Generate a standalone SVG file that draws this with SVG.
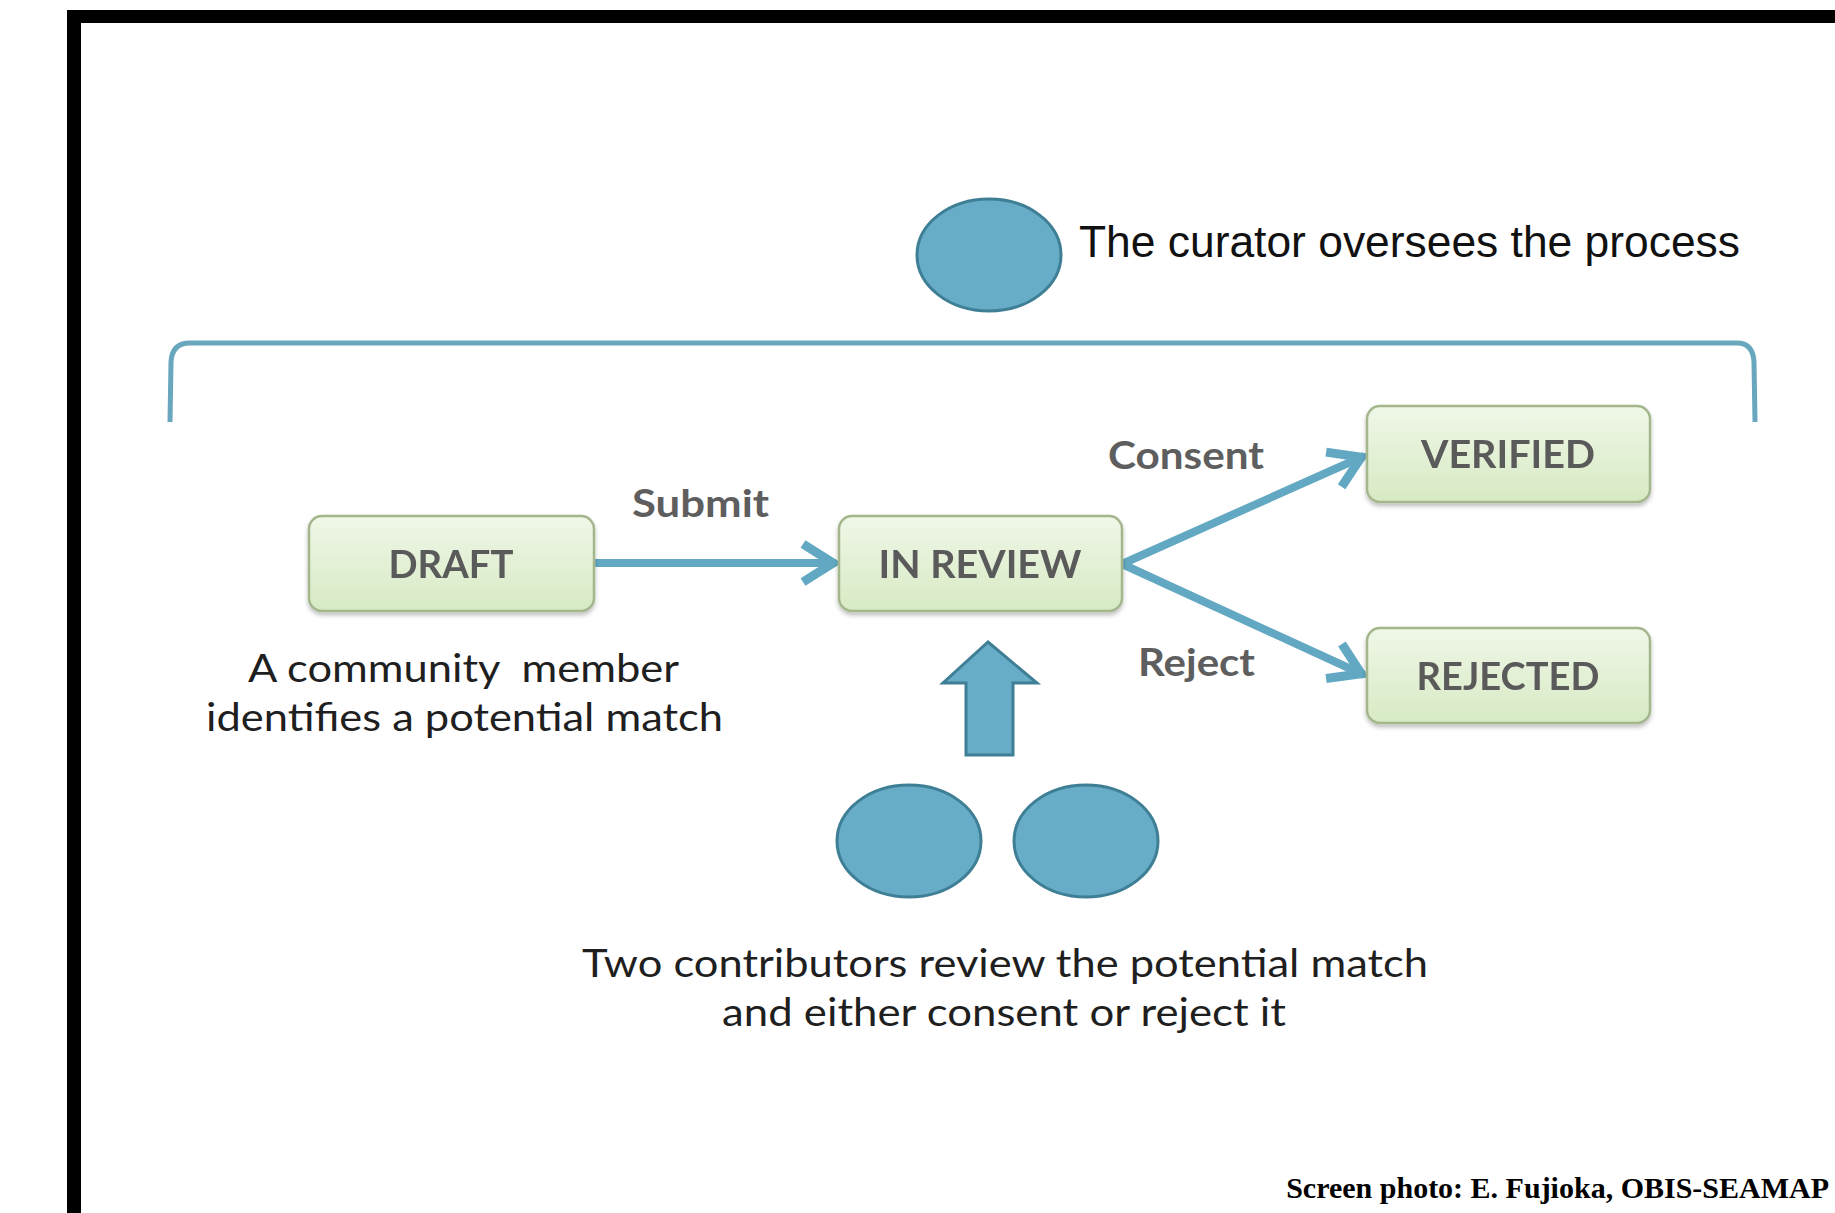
<svg xmlns="http://www.w3.org/2000/svg" width="1835" height="1213" viewBox="0 0 1835 1213">
<style>
.box{stroke:#a3b68c;stroke-width:2.5;fill:url(#g)}
.bt{font-family:Lato,"Open Sans",sans-serif;font-weight:bold;font-size:38px;fill:#5a5a5a;text-anchor:middle}
.lb{font-family:Lato,"Open Sans",sans-serif;font-weight:bold;font-size:38px;fill:#5e5e5e}
.tx{font-family:Lato,"Open Sans",sans-serif;font-size:38px;fill:#1f1f1f;white-space:pre}
.person{fill:#67adc8;stroke:#3f7f95;stroke-width:3}
.con{fill:none;stroke:#62a8c2;stroke-width:8}
</style>
<defs>
<linearGradient id="g" x1="0" y1="0" x2="0" y2="1">
<stop offset="0" stop-color="#f0f7e8"/>
<stop offset="1" stop-color="#d6eac3"/>
</linearGradient>
<filter id="sh" x="-10%" y="-10%" width="120%" height="130%">
<feDropShadow dx="0" dy="3" stdDeviation="2" flood-color="#000" flood-opacity="0.25"/>
</filter>
<marker id="ah" markerUnits="userSpaceOnUse" viewBox="-40 -24 44 48" markerWidth="44" markerHeight="48" refX="0" refY="0" orient="auto">
<path d="M-33,-19 L-3,0 L-33,19" fill="none" stroke="#62a8c2" stroke-width="9"/>
</marker>
</defs>
<rect x="0" y="0" width="1835" height="1213" fill="#ffffff"/>
<g id="frame">
<path d="M67,10 H1835 V23 H81 V1213 H67 Z" fill="#000"/>
</g>
<g id="bracket">
<path d="M170,422 L171,362 Q172,343 190,343 L1737,343 Q1753,343 1754,362 L1755,422" fill="none" stroke="#68a7be" stroke-width="5"/>
</g>
<g id="curator">
<ellipse class="person" cx="989" cy="255" rx="72" ry="56"/>
<text x="1079" y="257" font-family="'Liberation Sans',Arial,sans-serif" font-size="45" fill="#111" textLength="661" lengthAdjust="spacingAndGlyphs">The curator oversees the process</text>
</g>
<g id="connectors">
<line class="con" x1="594" y1="563" x2="836" y2="563" marker-end="url(#ah)"/>
<line class="con" x1="1122" y1="564" x2="1364" y2="456" marker-end="url(#ah)"/>
<line class="con" x1="1122" y1="564" x2="1364" y2="675" marker-end="url(#ah)"/>
<text class="lb" x="632" y="517" textLength="137" lengthAdjust="spacingAndGlyphs">Submit</text>
<text class="lb" x="1108" y="469" textLength="156" lengthAdjust="spacingAndGlyphs">Consent</text>
<text class="lb" x="1138" y="676" textLength="117" lengthAdjust="spacingAndGlyphs">Reject</text>
</g>
<g id="draft" filter="url(#sh)">
<rect class="box" x="309" y="516" width="285" height="95" rx="13"/>
<text class="bt" x="451" y="578" textLength="125" lengthAdjust="spacingAndGlyphs">DRAFT</text>
</g>
<g id="inreview" filter="url(#sh)">
<rect class="box" x="839" y="516" width="283" height="95" rx="13"/>
<text class="bt" x="980" y="578" textLength="203" lengthAdjust="spacingAndGlyphs">IN REVIEW</text>
</g>
<g id="verified" filter="url(#sh)">
<rect class="box" x="1367" y="406" width="283" height="96" rx="13"/>
<text class="bt" x="1508" y="468" textLength="174" lengthAdjust="spacingAndGlyphs">VERIFIED</text>
</g>
<g id="rejected" filter="url(#sh)">
<rect class="box" x="1367" y="628" width="283" height="95" rx="13"/>
<text class="bt" x="1508" y="690" textLength="183" lengthAdjust="spacingAndGlyphs">REJECTED</text>
</g>
<g id="member-note">
<text class="tx" x="248" y="682" textLength="431" lengthAdjust="spacingAndGlyphs">A community  member</text>
<text class="tx" x="206" y="731" textLength="517" lengthAdjust="spacingAndGlyphs">identifies a potential match</text>
</g>
<g id="review-arrow">
<path class="person" d="M988,642 L1037,683 L1013,683 L1013,755 L966,755 L966,683 L943,683 Z"/>
</g>
<g id="contributors">
<ellipse class="person" cx="909" cy="841" rx="72" ry="56"/>
<ellipse class="person" cx="1086" cy="841" rx="72" ry="56"/>
<text class="tx" x="582" y="977" textLength="846" lengthAdjust="spacingAndGlyphs">Two contributors review the potential match</text>
<text class="tx" x="722" y="1026" textLength="564" lengthAdjust="spacingAndGlyphs">and either consent or reject it</text>
</g>
<g id="credit">
<text x="1829" y="1198" text-anchor="end" font-family="'Liberation Serif','Times New Roman',serif" font-weight="bold" font-size="30" fill="#000">Screen photo: E. Fujioka, OBIS-SEAMAP</text>
</g>
</svg>
